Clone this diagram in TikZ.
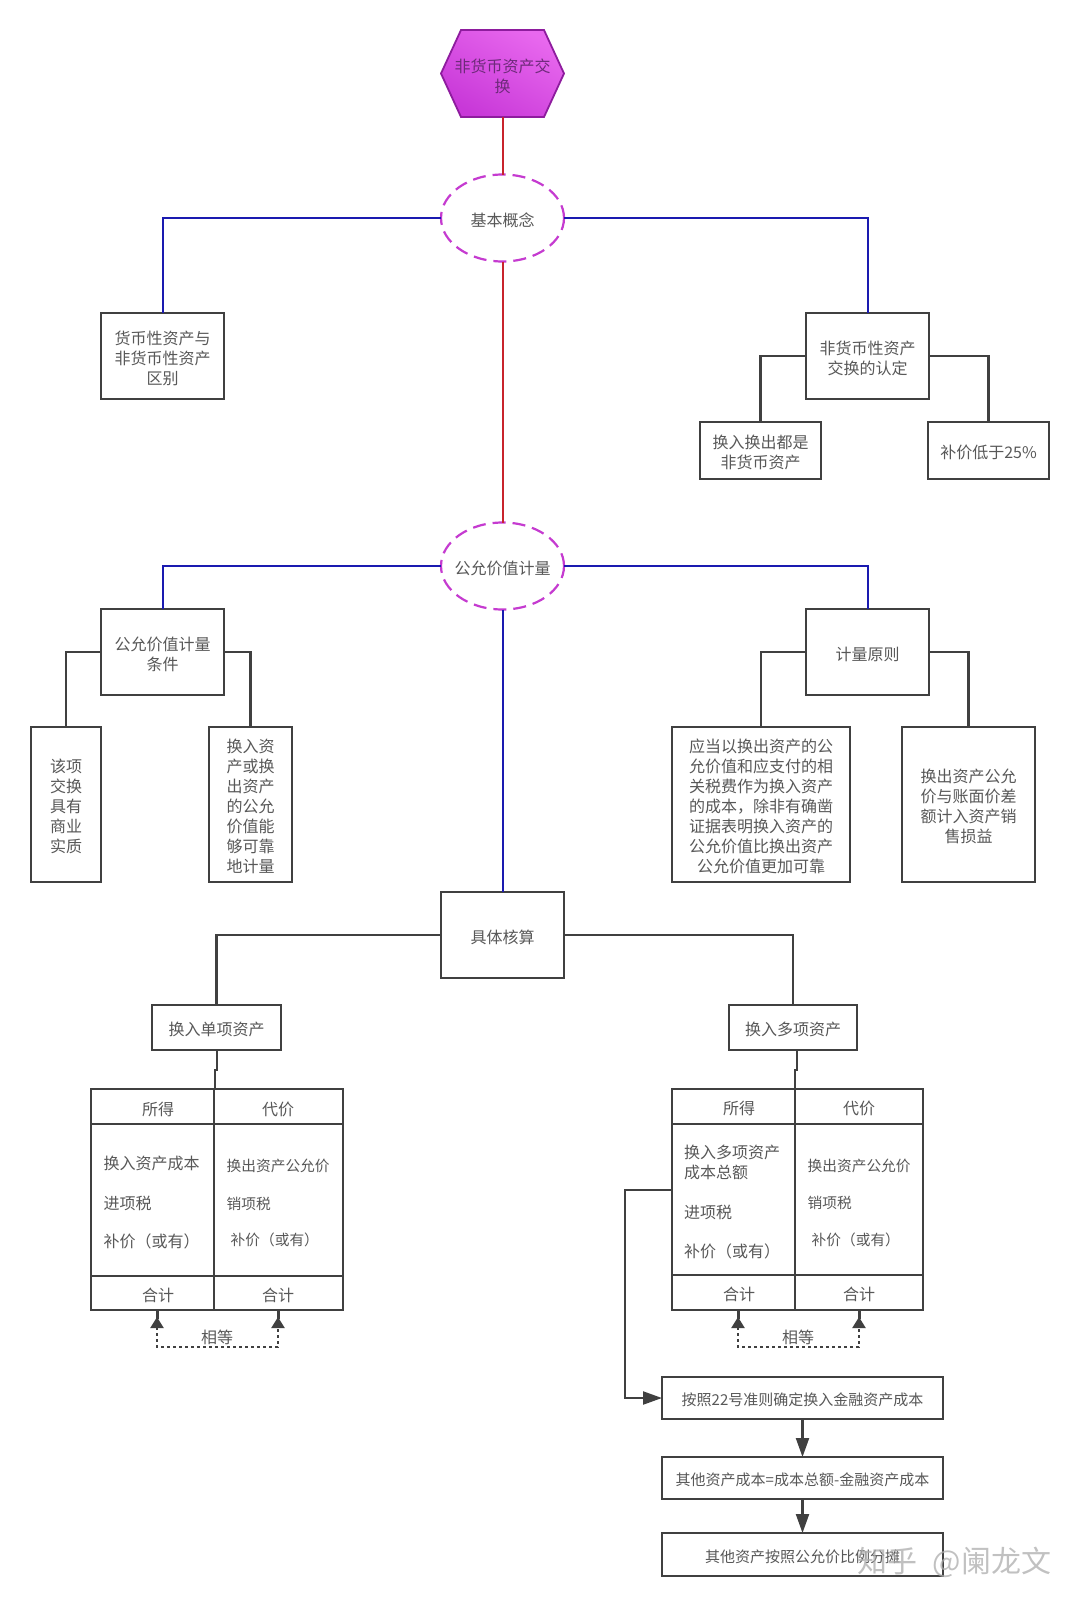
\documentclass[tikz,border=0pt]{standalone}
\usepackage{fontspec}
\setmainfont{Noto Sans CJK SC}
\usetikzlibrary{arrows.meta,shapes.geometric}
\definecolor{boxline}{HTML}{404040}
\definecolor{txt}{HTML}{585858}
\definecolor{bluel}{HTML}{1A1AB0}
\definecolor{redl}{HTML}{C8242C}
\definecolor{dashm}{HTML}{C53BD0}
\definecolor{hexb}{HTML}{8E1C9E}
\definecolor{hexlight}{HTML}{E868EE}
\definecolor{hexdark}{HTML}{C838D8}
\definecolor{hext}{HTML}{6E2A7A}
\tikzset{
  boxn/.style={draw=boxline,line width=2.2pt,fill=white,inner sep=0pt,outer sep=0pt},
  boxtext/.style={text=txt,align=center,inner sep=0pt,yshift=-2pt,font=\fontsize{16}{20}\selectfont},
  flowtext/.style={boxtext,font=\fontsize{15}{20}\selectfont},
  T/.style={label={[boxtext]center:#1}},
  F/.style={label={[flowtext]center:#1}},
  ell/.style={boxn,draw=dashm,ellipse,dash pattern=on 13pt off 7pt,minimum width=123pt,minimum height=87pt},
  lab/.style={text=txt,inner sep=0pt,font=\fontsize{16}{20}\selectfont},
  labl/.style={lab,anchor=west},
  labs/.style={lab,anchor=west,font=\fontsize{14.7}{20}\selectfont},
  redc/.style={draw=redl,line width=2pt},
  bluec/.style={draw=bluel,line width=2pt},
  grayc/.style={draw=boxline,line width=2.2pt},
  stem/.style={draw=boxline,line width=3pt},
  arr/.style={grayc,-{Triangle[length=19pt,width=13pt]}},
  eqc/.style={grayc,dash pattern=on 3pt off 3pt,{Triangle[length=11pt,width=13pt]}-{Triangle[length=11pt,width=13pt]},shorten <=7pt,shorten >=7pt}
}
\begin{document}
\begin{tikzpicture}[x=1pt,y=-1pt]
\useasboundingbox (0,0) rectangle (1080,1606);
% hexagon
\draw[draw=hexb,line width=1.8pt,top color=hexlight,bottom color=hexdark,shading angle=-30]
  (441,73.5)--(461,30)--(544,30)--(564,73.5)--(544,117)--(461,117)--cycle;
\node[inner sep=0pt,outer sep=0pt,minimum width=123pt,minimum height=87pt,label={[boxtext,text=hext,yshift=-0.5pt]center:非货币资产交\\换}] (hex) at (502.5,73.5) {};
% ellipses
\node[ell,T={基本概念}] (e1) at (502.5,218) {};
\node[ell,T={公允价值计量}] (e2) at (502.5,566) {};
% upper boxes
\node[boxn,minimum width=123pt,minimum height=86pt,T={货币性资产与\\非货币性资产\\区别}] (huobi) at (162.5,356) {};
\node[boxn,minimum width=123pt,minimum height=86pt,T={非货币性资产\\交换的认定}] (rending) at (867.5,356) {};
\node[boxn,minimum width=121pt,minimum height=57pt,T={换入换出都是\\非货币资产}] (huanru) at (760.5,450.5) {};
\node[boxn,minimum width=121pt,minimum height=57pt,T={补价低于25\%}] (bujia) at (988.5,450.5) {};
% fair value
\node[boxn,minimum width=123pt,minimum height=86pt,T={公允价值计量\\条件}] (tiaojian) at (162.5,652) {};
\node[boxn,minimum width=70pt,minimum height=155pt,T={该项\\交换\\具有\\商业\\实质}] (shizhi) at (66,804.5) {};
\node[boxn,minimum width=83pt,minimum height=155pt,T={换入资\\产或换\\出资产\\的公允\\价值能\\够可靠\\地计量}] (kekao) at (250.5,804.5) {};
\node[boxn,minimum width=123pt,minimum height=86pt,T={计量原则}] (yuanze) at (867.5,652) {};
\node[boxn,minimum width=178pt,minimum height=155pt,T={应当以换出资产的公\\允价值和应支付的相\\关税费作为换入资产\\的成本，除非有确凿\\证据表明换入资产的\\公允价值比换出资产\\公允价值更加可靠}] (yingdang) at (761,804.5) {};
\node[boxn,minimum width=133pt,minimum height=155pt,T={换出资产公允\\价与账面价差\\额计入资产销\\售损益}] (chayi) at (968.5,804.5) {};
% accounting
\node[boxn,minimum width=123pt,minimum height=86pt,T={具体核算}] (hesuan) at (502.5,935) {};
\node[boxn,minimum width=129pt,minimum height=45pt,T={换入单项资产}] (danxiang) at (216.5,1027.5) {};
\node[boxn,minimum width=128pt,minimum height=45pt,T={换入多项资产}] (duoxiang) at (793,1027.5) {};
% table A
\node[boxn,minimum width=252pt,minimum height=221pt] (tabA) at (217,1199.5) {};
\draw[grayc] (91,1124)--(343,1124) (91,1276)--(343,1276) (214,1089)--(214,1310);
\node[lab] (a1) at (158,1109) {所得};
\node[lab] (a2) at (278,1109) {代价};
\node[labl] (a3) at (103.5,1163) {换入资产成本};
\node[labl] (a4) at (103.5,1203) {进项税};
\node[labl] (a5) at (103.5,1241) {补价（或有）};
\node[labs] (a6) at (226.5,1166) {换出资产公允价};
\node[labs] (a7) at (226.5,1204) {销项税};
\node[labs] (a8) at (230.5,1240) {补价（或有）};
\node[lab] (a9) at (158,1295) {合计};
\node[lab] (a10) at (278,1295) {合计};
\node[lab] (a11) at (217,1337) {相等};
% table B
\node[boxn,minimum width=251pt,minimum height=221pt] (tabB) at (797.5,1199.5) {};
\draw[grayc] (672,1124)--(923,1124) (672,1275)--(923,1275) (795,1089)--(795,1310);
\node[lab] (b1) at (739,1108) {所得};
\node[lab] (b2) at (859,1108) {代价};
\node[labl] (b3) at (684,1152) {换入多项资产};
\node[labl] (b4) at (684,1172) {成本总额};
\node[labl] (b5) at (684,1212) {进项税};
\node[labl] (b6) at (684,1251) {补价（或有）};
\node[labs] (b7) at (807.5,1166) {换出资产公允价};
\node[labs] (b8) at (807.5,1203) {销项税};
\node[labs] (b9) at (811.5,1240) {补价（或有）};
\node[lab] (b10) at (739,1294) {合计};
\node[lab] (b11) at (859,1294) {合计};
\node[lab] (b12) at (798,1337) {相等};
% flow boxes
\node[boxn,minimum width=281pt,minimum height=42pt,F={按照22号准则确定换入金融资产成本}] (f1) at (802.5,1398) {};
\node[boxn,minimum width=281pt,minimum height=42pt,F={其他资产成本=成本总额-金融资产成本}] (f2) at (802.5,1478) {};
\node[boxn,minimum width=281pt,minimum height=43pt,F={其他资产按照公允价比例分摊}] (f3) at (802.5,1554.5) {};
% coordinates
\coordinate (dnA) at (217,1050);
\coordinate (topA) at (215,1089);
\coordinate (dnB) at (797,1050);
\coordinate (topB) at (795,1089);
\coordinate (hA1) at (157,1310);
\coordinate (hA2) at (278,1310);
\coordinate (hB1) at (738,1310);
\coordinate (hB2) at (859,1310);
\coordinate (sideB) at (672,1190);
% connectors
\draw[redc] (hex.south)--(e1.north);
\draw[redc] (e1.south)--(e2.north);
\draw[bluec] (e1.west)-|(huobi.north);
\draw[bluec] (e1.east)-|(rending.north);
\draw[bluec] (e2.west)-|(tiaojian.north);
\draw[bluec] (e2.east)-|(yuanze.north);
\draw[bluec] (e2.south)--(hesuan.north);
\draw[grayc] (rending.west)-|(huanru.north);
\draw[grayc] (rending.east)-|(bujia.north);
\draw[grayc] (tiaojian.west)-|(shizhi.north);
\draw[grayc] (tiaojian.east)-|(kekao.north);
\draw[grayc] (yuanze.west)-|(yingdang.north);
\draw[grayc] (yuanze.east)-|(chayi.north);
\draw[grayc] (hesuan.west)-|(danxiang.north);
\draw[grayc] (hesuan.east)-|(duoxiang.north);
\draw[grayc] (dnA)--++(0,20)--++(-2,0)--(topA);
\draw[grayc] (dnB)--++(0,20)--++(-2,0)--(topB);
\draw[eqc] (hA1)--++(0,37)-|(hA2);
\draw[eqc] (hB1)--++(0,37)-|(hB2);
\draw[stem] (hA1)--++(0,9) (hA2)--++(0,9) (hB1)--++(0,9) (hB2)--++(0,9);
\draw[arr] (sideB)--++(-47,0)|-(f1.west);
\draw[arr] (f1.south)--(f2.north);
\draw[arr] (f2.south)--(f3.north);
% watermark
\node[inner sep=0pt,text=gray!65,opacity=.75,font=\fontsize{30}{30}\selectfont] (wm) at (954.5,1562) {知乎\hspace{15pt}@阑龙文};
\end{tikzpicture}
\end{document}
